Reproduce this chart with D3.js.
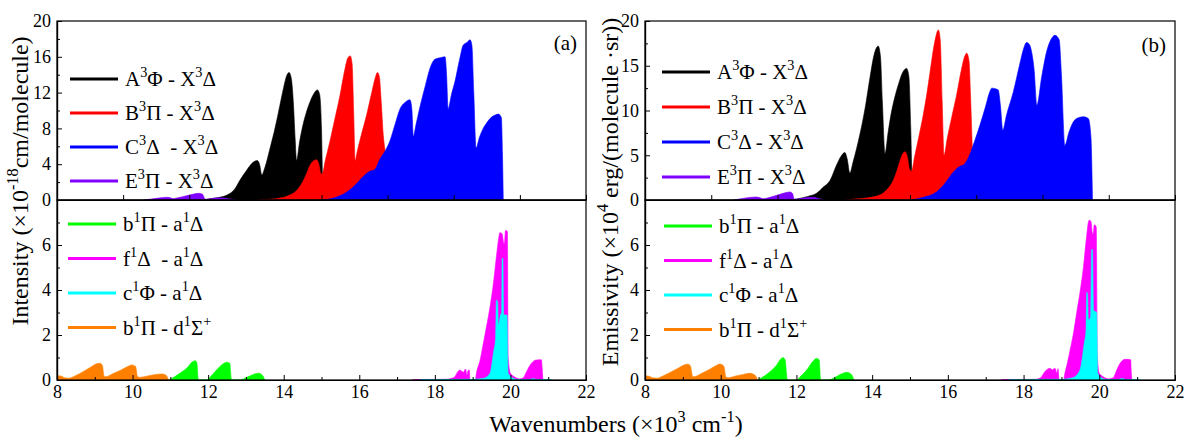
<!DOCTYPE html>
<meta charset="utf-8">
<style>
body { margin: 0; background: #fff; }
svg text { font-family: "Liberation Serif", "Times New Roman", serif; fill: #000; }
</style>
<body>
<script src="https://cdn.jsdelivr.net/npm/d3@7"></script>
<script>
// ---- panel (a): intensity, upper (triplets) ----
var aA3Phi = [[11.9,0],[12.0,0.1],[12.3,0.3],[12.5,0.55],[12.7,1.2],[12.84,2.2],[13.0,3.2],[13.1,3.8],[13.22,4.3],[13.3,4.4],[13.36,4.0],[13.42,2.8],[13.5,3.6],[13.64,5.8],[13.78,8.2],[13.9,10.6],[14.0,12.6],[14.08,13.9],[14.14,14.25],[14.2,13.6],[14.26,10.5],[14.3,7],[14.34,4.4],[14.42,6.5],[14.5,8.2],[14.6,9.8],[14.7,11.0],[14.8,11.9],[14.89,12.3],[14.95,11.8],[15.0,8],[15.03,2],[15.05,0]];
var aB3Pi = [[13.3,0],[13.5,0.05],[13.8,0.15],[14.16,0.55],[14.35,1.1],[14.5,2.0],[14.6,2.9],[14.7,3.9],[14.8,4.4],[14.87,4.5],[14.93,4.0],[14.98,3.0],[15.02,2.9],[15.1,4.4],[15.22,6.5],[15.35,9.0],[15.49,11.7],[15.6,14.2],[15.7,15.9],[15.76,16.1],[15.81,15.2],[15.85,10],[15.89,4.4],[15.95,5.5],[16.05,7.2],[16.2,9.6],[16.33,12.0],[16.42,13.6],[16.48,14.25],[16.53,13.8],[16.58,11],[16.63,7.5],[16.68,5.6],[16.75,4.0],[16.9,2],[17.1,0]];
var aC3Delta = [[15.0,0],[15.3,0.2],[15.67,0.9],[15.9,1.7],[16.05,2.4],[16.2,3.0],[16.28,3.2],[16.41,3.4],[16.55,4.6],[16.7,5.6],[16.81,6.6],[16.95,8.5],[17.08,10.2],[17.21,10.9],[17.34,11.2],[17.39,10.2],[17.43,7.1],[17.5,8.4],[17.6,10.3],[17.75,12.8],[17.87,14.7],[17.97,15.6],[18.05,15.8],[18.15,15.9],[18.27,16.0],[18.31,14],[18.35,10.2],[18.44,11.8],[18.53,13.2],[18.66,15.8],[18.75,17.3],[18.85,17.6],[18.93,17.9],[18.98,17.3],[19.03,12],[19.09,5.8],[19.18,7.0],[19.28,8.0],[19.37,8.6],[19.46,9.1],[19.6,9.5],[19.68,9.6],[19.76,9.2],[19.79,5],[19.81,0]];
var aE3Pi = [[10.3,0],[10.5,0.12],[10.75,0.25],[10.9,0.3],[11.0,0.25],[11.07,0.15],[11.2,0.25],[11.4,0.45],[11.6,0.65],[11.75,0.75],[11.85,0.65],[11.92,0.1],[12.0,0.1],[12.15,0.2],[12.3,0.25],[12.45,0.2],[12.6,0.1],[12.75,0]];

// ---- panel (a): intensity, lower (singlets) ----
var aB1PiA = [[10.95,0],[11.05,0.08],[11.25,0.3],[11.43,0.52],[11.58,0.8],[11.65,0.86],[11.7,0.78],[11.74,0],[11.96,0],[12.05,0.12],[12.22,0.44],[12.38,0.7],[12.49,0.79],[12.57,0.75],[12.62,0],[12.85,0],[13.0,0.1],[13.2,0.25],[13.33,0.3],[13.43,0.22],[13.5,0]];
var aF1Delta = [[17.4,0],[17.5,0.02],[18.3,0.03],[18.45,0.08],[18.53,0.15],[18.6,0.35],[18.66,0.44],[18.72,0.38],[18.76,0.35],[18.81,0.49],[18.85,0.2],[18.88,0.42],[18.91,0.44],[18.93,0],[19.07,0],[19.1,0.3],[19.2,0.9],[19.28,1.6],[19.37,2.4],[19.46,3.25],[19.55,4.3],[19.63,5.5],[19.69,6.3],[19.72,6.55],[19.78,6.5],[19.82,6.1],[19.84,6.06],[19.87,6.65],[19.92,6.6],[19.94,1.0],[20.0,0.3],[20.1,0.15],[20.25,0.05],[20.34,0.1],[20.42,0.35],[20.52,0.66],[20.62,0.85],[20.69,0.89],[20.82,0.9],[20.84,0.5],[20.86,0]];
var aC1Phi = [[17.6,0],[17.7,0.02],[19.0,0.03],[19.3,0.08],[19.46,0.3],[19.55,1.2],[19.61,1.9],[19.63,3.55],[19.66,3.5],[19.68,2.44],[19.74,2.9],[19.77,3.0],[19.78,5.4],[19.8,5.4],[19.82,2.9],[19.91,2.88],[19.94,0.3],[20.05,0.1],[20.2,0.02],[20.5,0.02],[20.6,0.06],[20.7,0.02],[21.0,0.02],[21.1,0]];
var aB1PiD = [[8.0,0.19],[8.1,0.18],[8.2,0.1],[8.3,0.08],[8.5,0.2],[8.7,0.38],[8.9,0.58],[9.05,0.72],[9.14,0.74],[9.2,0.65],[9.25,0.15],[9.3,0.15],[9.5,0.3],[9.7,0.45],[9.9,0.62],[9.98,0.67],[10.08,0.6],[10.13,0.15],[10.2,0.12],[10.4,0.18],[10.6,0.24],[10.77,0.27],[10.88,0.22],[10.95,0]];

// ---- panel (b): emissivity, upper ----
var bA3Phi = [[11.9,0],[12.0,0.1],[12.3,0.4],[12.53,0.75],[12.7,1.4],[12.89,2.2],[13.06,3.9],[13.18,4.9],[13.28,5.3],[13.34,4.6],[13.41,3.0],[13.5,4.3],[13.68,7.4],[13.82,10.4],[13.94,13.6],[14.05,16.2],[14.16,17.2],[14.22,16],[14.27,11],[14.34,5.2],[14.42,7.5],[14.5,9.6],[14.6,11.5],[14.7,13.0],[14.8,14.2],[14.91,14.7],[14.97,13.8],[15.02,8],[15.06,1],[15.09,0]];
var bB3Pi = [[13.3,0],[13.5,0.1],[13.8,0.2],[14.2,0.55],[14.4,1.2],[14.56,2.2],[14.65,3.2],[14.73,4.3],[14.8,5.1],[14.87,5.4],[14.93,4.8],[14.99,3.4],[15.04,3.2],[15.12,4.8],[15.23,7.0],[15.35,9.5],[15.45,12],[15.53,14.3],[15.65,17.6],[15.75,19.0],[15.8,17.8],[15.85,11],[15.9,5.0],[15.98,6.8],[16.1,9.2],[16.23,11.7],[16.36,14.6],[16.44,16.0],[16.5,16.4],[16.56,15.5],[16.6,11.5],[16.66,5.0],[16.75,3.8],[16.9,2],[17.1,0]];
var bC3Delta = [[15.05,0],[15.3,0.25],[15.7,0.9],[15.95,2.0],[16.1,2.9],[16.23,3.5],[16.33,3.8],[16.41,3.9],[16.55,4.8],[16.7,6.5],[16.85,8.4],[17.0,10.5],[17.1,12.0],[17.16,12.5],[17.28,12.4],[17.33,12.3],[17.39,10.5],[17.45,7.8],[17.55,9.5],[17.73,12.1],[17.9,15.2],[18.0,16.9],[18.08,17.6],[18.15,17.4],[18.21,16.6],[18.28,14.5],[18.35,10.6],[18.48,13.8],[18.61,16.6],[18.72,17.9],[18.83,18.4],[18.94,17.9],[19.0,14],[19.09,6.1],[19.2,7.6],[19.31,8.7],[19.45,9.2],[19.58,9.3],[19.71,9.1],[19.78,7],[19.82,0]];
var bE3Pi = [[10.35,0],[10.5,0.12],[10.75,0.28],[10.91,0.33],[11.02,0.28],[11.12,0.15],[11.3,0.3],[11.5,0.55],[11.7,0.8],[11.83,0.9],[11.9,0.7],[11.94,0.1],[12.05,0.12],[12.25,0.25],[12.45,0.3],[12.6,0.15],[12.75,0]];

// ---- panel (b): emissivity, lower ----
var bB1PiA = [[10.98,0],[11.1,0.12],[11.3,0.37],[11.47,0.65],[11.58,0.92],[11.64,1.0],[11.7,0.9],[11.76,0],[12.0,0],[12.1,0.15],[12.27,0.44],[12.42,0.8],[12.53,0.96],[12.6,0.9],[12.64,0],[12.85,0],[13.0,0.1],[13.2,0.28],[13.33,0.34],[13.45,0.25],[13.52,0]];
var bF1Delta = [[17.4,0],[17.5,0.02],[18.3,0.03],[18.45,0.1],[18.56,0.37],[18.7,0.52],[18.76,0.45],[18.83,0.52],[18.88,0.3],[18.91,0.5],[18.94,0],[19.06,0],[19.08,0.2],[19.15,0.7],[19.23,1.33],[19.32,2.1],[19.4,2.96],[19.5,4.0],[19.58,5.0],[19.66,6.3],[19.73,7.1],[19.78,7.05],[19.82,6.5],[19.84,6.5],[19.87,6.9],[19.92,6.8],[19.95,1.0],[20.0,0.3],[20.1,0.15],[20.25,0.05],[20.37,0.1],[20.45,0.4],[20.55,0.74],[20.68,0.92],[20.83,0.9],[20.84,0.5],[20.86,0]];
var bC1Phi = [[17.6,0],[17.7,0.02],[19.0,0.03],[19.3,0.1],[19.49,0.44],[19.6,1.6],[19.65,2.2],[19.67,3.9],[19.69,3.8],[19.71,2.66],[19.77,2.8],[19.8,5.8],[19.82,5.8],[19.85,3.1],[19.93,3.0],[19.96,0.3],[20.05,0.1],[20.2,0.02],[20.5,0.02],[20.6,0.07],[20.7,0.02],[21.0,0.02],[21.1,0]];
var bB1PiD = [[8.0,0.19],[8.1,0.17],[8.2,0.1],[8.31,0.08],[8.5,0.2],[8.7,0.37],[8.9,0.55],[9.05,0.68],[9.14,0.7],[9.2,0.62],[9.26,0.15],[9.3,0.15],[9.5,0.3],[9.7,0.47],[9.9,0.66],[9.98,0.71],[10.08,0.62],[10.14,0.12],[10.2,0.1],[10.4,0.18],[10.6,0.25],[10.77,0.3],[10.9,0.22],[10.98,0]];

// ---- ticks & labels ----
var xTicks = [8, 10, 12, 14, 16, 18, 20, 22];
var xMinor = [9, 11, 13, 15, 17, 19, 21];
var xUpperTicks = [8, 9.75, 11.5, 13.25, 15, 16.75, 18.5, 20.25, 22];
var aUpTicks = [0, 4, 8, 12, 16, 20], aUpMinor = [2, 6, 10, 14, 18];
var bUpTicks = [0, 5, 10, 15, 20], bUpMinor = [2.5, 7.5, 12.5, 17.5];
var lowTicks = [0, 2, 4, 6], lowMinor = [1, 3, 5, 7];

var tripletNamesA = ["A{3}Φ - X{3}Δ", "B{3}Π - X{3}Δ", "C{3}Δ\u00a0 - X{3}Δ", "E{3}Π - X{3}Δ"];
var tripletNamesB = ["A{3}Φ - X{3}Δ", "B{3}Π - X{3}Δ", "C{3}Δ - X{3}Δ", "E{3}Π - X{3}Δ"];
var singletNamesA = ["b{1}Π - a{1}Δ", "f{1}Δ\u00a0 - a{1}Δ", "c{1}Φ - a{1}Δ", "b{1}Π - d{1}Σ{+}"];
var singletNamesB = ["b{1}Π - a{1}Δ", "f{1}Δ - a{1}Δ", "c{1}Φ - a{1}Δ", "b{1}Π - d{1}Σ{+}"];
var tripletColors = ["#000000", "#ff0000", "#0000ff", "#8000ff"];
var singletColors = ["#00ff00", "#ff00ff", "#00ffff", "#ff8000"];

var W = 1186, H = 437;
var yTop = 21, yMid = 200, yBot = 380;
var serif = "'Liberation Serif', 'Times New Roman', serif";

var svg = d3.select("body").append("svg")
    .attr("width", W)
    .attr("height", H);

// superscripts written as {..}
function rich(t, str, size) {
  var cur = 0, up = size * 0.42;
  str.split(/(\{[^}]*\})/).forEach(function(p) {
    if (!p) return;
    if (p[0] == "{") {
      t.append("tspan").attr("font-size", size * 0.68).attr("dy", -up - cur).text(p.slice(1, -1));
      cur = -up;
    } else {
      t.append("tspan").attr("dy", -cur).text(p);
      cur = 0;
    }
  });
}

function styleAxis(sel) {
  sel.attr("font-family", serif).attr("font-size", 18);
  sel.selectAll("text").style("font-family", serif).style("font-size", "18px");
  sel.select(".domain").attr("stroke-width", 1.2);
}

function subplot(x, y0, y1, domainY, ticks, minor, series, colors, names, leg, xTickVals, xLabels) {
  var y = d3.scaleLinear().domain(domainY).range([y1, y0]);
  var x0 = x.range()[0], x1 = x.range()[1];
  var g = svg.append("g");
  var id = "c" + Math.round(x0) + "_" + y0;
  svg.append("clipPath").attr("id", id).append("rect")
      .attr("x", x0).attr("y", y0)
      .attr("width", x1 - x0).attr("height", y1 - y0);

  var area = d3.area()
      .x(function(d) { return x(d[0]); })
      .y0(y(0))
      .y1(function(d) { return y(d[1]); })
      .curve(d3.curveMonotoneX);

  g.append("g").attr("clip-path", "url(#" + id + ")")
    .selectAll("path")
    .data(series)
    .enter().append("path")
      .attr("d", area)
      .attr("fill", function(d, i) { return colors[i]; })
      .attr("stroke", function(d, i) { return colors[i]; })
      .attr("stroke-width", 0.6);

  // frame
  g.append("rect")
      .attr("x", x0).attr("y", y0)
      .attr("width", x1 - x0).attr("height", y1 - y0)
      .attr("fill", "none").attr("stroke", "#000").attr("stroke-width", 1.2);

  // y axis
  g.append("g")
      .attr("transform", "translate(" + x0 + ",0)")
      .call(d3.axisLeft(y).tickValues(ticks).tickSize(-5).tickPadding(6).tickSizeOuter(0))
      .call(styleAxis);
  g.append("g")
      .attr("transform", "translate(" + x0 + ",0)")
      .call(d3.axisLeft(y).tickValues(minor).tickSize(-3).tickFormat("").tickSizeOuter(0))
      .call(styleAxis);

  // x axis
  g.append("g")
      .attr("transform", "translate(0," + y1 + ")")
      .call(d3.axisBottom(x).tickValues(xTickVals).tickSize(-5).tickPadding(5).tickSizeOuter(0)
        .tickFormat(xLabels ? d3.format("d") : ""))
      .call(styleAxis);
  if (xLabels) {
    g.append("g")
        .attr("transform", "translate(0," + y1 + ")")
        .call(d3.axisBottom(x).tickValues(xMinor).tickSize(-3).tickFormat("").tickSizeOuter(0))
        .call(styleAxis);
  }

  // legend
  names.forEach(function(n, i) {
    var ly = leg.y + i * leg.dy;
    g.append("line")
        .attr("x1", leg.x).attr("x2", leg.x + 48)
        .attr("y1", ly).attr("y2", ly)
        .attr("stroke", colors[i]).attr("stroke-width", 3);
    var t = g.append("text")
        .attr("x", leg.x + 55).attr("y", ly + 7)
        .attr("font-size", 21);
    rich(t, n, 21);
  });
}

var xa = d3.scaleLinear().domain([8, 22]).range([57, 586]);
var xb = d3.scaleLinear().domain([8, 22]).range([645, 1175]);

subplot(xa, yTop, yMid, [0, 20], aUpTicks, aUpMinor, [aA3Phi, aB3Pi, aC3Delta, aE3Pi],
  tripletColors, tripletNamesA, {x: 70, y: 79, dy: 34}, xUpperTicks, false);
subplot(xa, yMid, yBot, [0, 8], lowTicks, lowMinor, [aB1PiA, aF1Delta, aC1Phi, aB1PiD],
  singletColors, singletNamesA, {x: 68, y: 224, dy: 34.5}, xTicks, true);
subplot(xb, yTop, yMid, [0, 20], bUpTicks, bUpMinor, [bA3Phi, bB3Pi, bC3Delta, bE3Pi],
  tripletColors, tripletNamesB, {x: 662, y: 72, dy: 35}, xUpperTicks, false);
subplot(xb, yMid, yBot, [0, 8], lowTicks, lowMinor, [bB1PiA, bF1Delta, bC1Phi, bB1PiD],
  singletColors, singletNamesB, {x: 664, y: 226, dy: 34.5}, xTicks, true);

// panel tags
svg.append("text").attr("x", 577).attr("y", 50).attr("text-anchor", "end").attr("font-size", 21).text("(a)");
svg.append("text").attr("x", 1166).attr("y", 52).attr("text-anchor", "end").attr("font-size", 21).text("(b)");

// axis titles
var ta = svg.append("text").attr("transform", "translate(28,181)rotate(-90)")
    .attr("text-anchor", "middle").attr("font-size", 24);
rich(ta, "Intensity (×10{-18}cm/molecule)", 24);
var tb = svg.append("text").attr("transform", "translate(618,192)rotate(-90)")
    .attr("text-anchor", "middle").attr("font-size", 24);
rich(tb, "Emissivity (×10{4} erg/(molecule ·sr))", 24);
var tx = svg.append("text").attr("x", 616).attr("y", 432)
    .attr("text-anchor", "middle").attr("font-size", 24);
rich(tx, "Wavenumbers (×10{3} cm{-1})", 24);
</script>
</body>
